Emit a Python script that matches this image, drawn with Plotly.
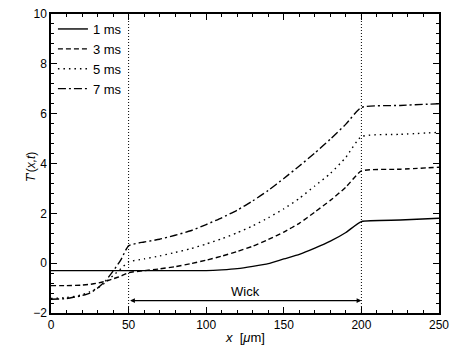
import plotly.graph_objects as go

x_um = [0, 10, 20, 25, 30, 35, 40, 45, 50, 60, 70, 80, 90, 100, 110, 120, 130,
        140, 150, 160, 170, 180, 190, 200, 225, 250]

t_1ms = [-0.3, -0.3, -0.3, -0.3, -0.3, -0.3, -0.3, -0.3, -0.3, -0.3, -0.3, -0.3,
         -0.3, -0.3, -0.27, -0.22, -0.13, -0.02, 0.17, 0.35, 0.6, 0.88, 1.23,
         1.67, 1.73, 1.8]
t_3ms = [-0.9, -0.9, -0.88, -0.85, -0.8, -0.73, -0.63, -0.52, -0.38, -0.3, -0.23,
         -0.14, -0.02, 0.12, 0.28, 0.47, 0.68, 0.95, 1.25, 1.6, 2.05, 2.52, 3.05,
         3.7, 3.77, 3.85]
t_5ms = [-1.42, -1.38, -1.27, -1.15, -1.0, -0.78, -0.5, -0.22, 0.05, 0.17, 0.29,
         0.43, 0.58, 0.77, 0.98, 1.22, 1.5, 1.82, 2.18, 2.6, 3.1, 3.6, 4.25,
         5.08, 5.17, 5.25]
t_7ms = [-1.45, -1.42, -1.3, -1.2, -1.0, -0.72, -0.32, 0.13, 0.7, 0.85, 0.96,
         1.12, 1.3, 1.55, 1.82, 2.13, 2.5, 2.92, 3.4, 3.9, 4.42, 4.98, 5.58,
         6.25, 6.33, 6.4]

labels = ["1 ms", "3 ms", "5 ms", "7 ms"]
dashes = ["solid", "5px,3px", "1.5px,4px", "8px,3px,2px,3px"]
series = [t_1ms, t_3ms, t_5ms, t_7ms]

wick_start, wick_end = 50, 200
x_ticks = [0, 50, 100, 150, 200, 250]
y_ticks = [-2, 0, 2, 4, 6, 8, 10]

fig = go.Figure()
for lab, ys, d in zip(labels, series, dashes):
    fig.add_trace(go.Scatter(x=x_um, y=ys, mode="lines", name=lab,
                             line=dict(color="black", width=1.4, dash=d,
                                       shape="spline", smoothing=0.5)))

for xv in (wick_start, wick_end):
    fig.add_shape(type="line", x0=xv, x1=xv, y0=-2, y1=10, xref="x", yref="y",
                  line=dict(color="black", width=1, dash="1px,2px"))

fig.add_annotation(x=wick_end, y=-1.5, ax=wick_start, ay=-1.5, xref="x", yref="y",
                   axref="x", ayref="y", showarrow=True, arrowhead=2, arrowside="end+start",
                   arrowsize=0.8, arrowwidth=1.2, arrowcolor="black", text="")
fig.add_annotation(x=125, y=-1.14, xref="x", yref="y", text="Wick", showarrow=False,
                   font=dict(size=13, color="black"))

# axis titles
fig.add_annotation(x=-0.075, y=0.488, xref="paper", yref="paper", showarrow=False,
                   text="<i>T</i>'(<i>x,t</i>)", textangle=-90,
                   font=dict(size=12, color="black"))
fig.add_annotation(x=0.5, y=-0.114, xref="paper", yref="paper", showarrow=False,
                   text="<i>x</i>  [<i>μ</i>m]", font=dict(size=13, color="black"))

axis_common = dict(showline=True, linecolor="black", linewidth=1.5, mirror="allticks",
                   ticks="inside", ticklen=6, tickwidth=1.3, tickcolor="black",
                   showgrid=False, zeroline=False, automargin=False,
                   tickfont=dict(size=12, color="black"))

fig.update_xaxes(range=[0, 250], tickvals=x_ticks,
                 minor=dict(dtick=10, ticklen=3, ticks="inside", tickcolor="black", showgrid=False),
                 **axis_common)
fig.update_yaxes(range=[-2, 10], tickvals=y_ticks,
                 minor=dict(dtick=0.4, ticklen=3, ticks="inside", tickcolor="black", showgrid=False),
                 **axis_common)

fig.update_layout(width=451, height=358,
                  margin=dict(l=51, r=12, t=14, b=45),
                  paper_bgcolor="white", plot_bgcolor="white",
                  font=dict(family="Liberation Sans, Arial, sans-serif", color="black"),
                  legend=dict(x=0.005, y=1.0, xanchor="left", yanchor="top",
                              bgcolor="rgba(0,0,0,0)", font=dict(size=13),
                              tracegroupgap=0, itemwidth=30),
                  showlegend=True)

fig.write_html("out.html", config={"displayModeBar": False},
               post_script="document.body.style.margin='0';document.body.style.overflow='hidden';")
